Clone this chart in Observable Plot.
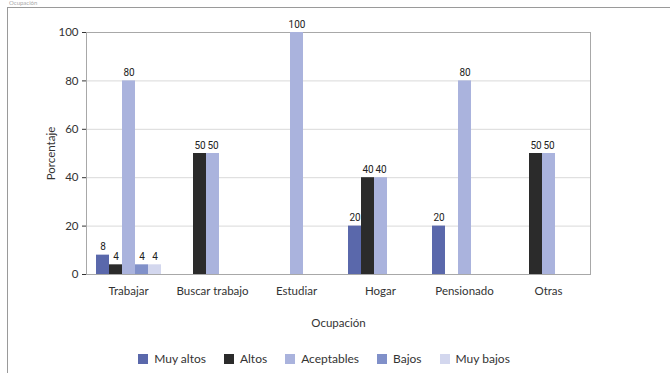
<!DOCTYPE html>
<html>
<head>
<meta charset="utf-8">
<script src="https://cdn.jsdelivr.net/npm/d3@7"></script>
<script src="https://cdn.jsdelivr.net/npm/@observablehq/plot@0.6"></script>
<style>
  html, body { margin: 0; padding: 0; background: #fff; }
  body { width: 670px; height: 373px; position: relative; overflow: hidden; font-family: Lato, "Noto Sans", sans-serif; color: #333; }
  #box { position: absolute; left: 7px; top: 7px; width: 700px; height: 400px; border-left: 1px solid #9a9a9a; border-top: 1px solid #9a9a9a; }
  #tiny { position: absolute; left: 9px; top: 0px; font-size: 6px; line-height: 6px; color: #aaa; }
  #chart { position: absolute; left: 0; top: 0; }
  #legend { position: absolute; left: 0; top: 351px; width: 670px; display: flex; justify-content: center; padding-right: 22px; box-sizing: border-box; gap: 18px; font-size: 12px; color: #333; }
  #legend .item { display: flex; align-items: center; gap: 6px; }
  #legend .sw { width: 10px; height: 10px; display: inline-block; }
</style>
</head>
<body>
<div id="tiny">Ocupación</div>
<div id="box"></div>
<div id="chart"></div>
<div id="legend"></div>
<script>
const categories = ["Trabajar", "Buscar trabajo", "Estudiar", "Hogar", "Pensionado", "Otras"];
const series = ["Muy altos", "Altos", "Aceptables", "Bajos", "Muy bajos"];
const muyAltos   = [8, 0, 0, 20, 20, 0];
const altos      = [4, 50, 0, 40, 0, 50];
const aceptables = [80, 50, 100, 40, 80, 50];
const bajos      = [4, 0, 0, 0, 0, 0];
const muyBajos   = [4, 0, 0, 0, 0, 0];
const yTicks = [0, 20, 40, 60, 80, 100];
const colors = ["#5a68ab", "#2b2b2b", "#aab3dd", "#8090c9", "#d3d7ee"];

const valuesBySeries = [muyAltos, altos, aceptables, bajos, muyBajos];
const data = [];
series.forEach((s, si) => {
  categories.forEach((c, ci) => {
    const v = valuesBySeries[si][ci];
    if (v > 0) data.push({category: c, series: s, value: v});
  });
});

const chart = Plot.plot({
  width: 670,
  height: 340,
  marginLeft: 84,
  marginRight: 78,
  marginTop: 32,
  marginBottom: 66,
  style: {fontFamily: "Lato, 'Noto Sans', sans-serif", fontSize: "11.5px", color: "#333", background: "transparent"},
  fx: {domain: categories, padding: 0, label: "Ocupación", labelAnchor: "center", labelOffset: 52, tickSize: 0, tickPadding: 12},
  x: {domain: series, paddingInner: 0, paddingOuter: 0.63, axis: null},
  y: {domain: [0, 100], ticks: yTicks, label: "Porcentaje", labelArrow: "none", labelAnchor: "center", labelOffset: 40, tickSize: 4, tickPadding: 4, grid: false},
  color: {domain: series, range: colors},
  marks: [
    Plot.ruleY(yTicks, {stroke: "#d9d9d9"}),
    Plot.frame({facet: "super", stroke: "#a8a8a8"}),
    Plot.barY(data, {fx: "category", x: "series", y: "value", fill: "series"}),
    Plot.text(data, {fx: "category", x: "series", y: "value", text: d => String(d.value), dy: -8, fill: "#222", fontSize: 10, fontFamily: "'Liberation Sans Narrow', 'Roboto', sans-serif"})
  ]
});
document.getElementById("chart").appendChild(chart);

const legend = document.getElementById("legend");
series.forEach((s, i) => {
  const item = document.createElement("div");
  item.className = "item";
  const sw = document.createElement("span");
  sw.className = "sw";
  sw.style.background = colors[i];
  const t = document.createElement("span");
  t.textContent = s;
  item.appendChild(sw);
  item.appendChild(t);
  legend.appendChild(item);
});
</script>
</body>
</html>
